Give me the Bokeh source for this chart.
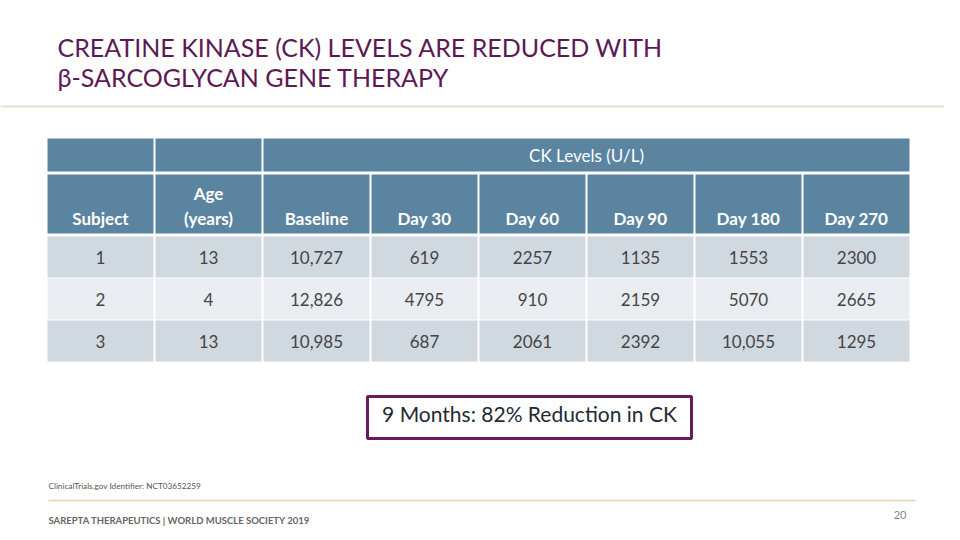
from bokeh.plotting import figure
from bokeh.models import Range1d
from bokeh.core.properties import value
from bokeh.embed import file_html
from bokeh.resources import INLINE

# ---- data ----
subjects = ["1", "2", "3"]
ages = [13, 4, 13]
baseline = [10727, 12826, 10985]
day30 = [619, 4795, 687]
day60 = [2257, 910, 2061]
day90 = [1135, 2159, 2392]
day180 = [1553, 5070, 10055]
day270 = [2300, 2665, 1295]
col_headers = ["Subject", "Age|(years)", "Baseline", "Day 30", "Day 60", "Day 90", "Day 180", "Day 270"]
group_header = "CK Levels (U/L)"
title_lines = ["CREATINE KINASE (CK) LEVELS ARE REDUCED WITH", "\u03b2-SARCOGLYCAN GENE THERAPY"]
callout = "9 Months: 82% Reduction in CK"
source_note = "ClinicalTrials.gov Identifier: NCT03652259"
footer = "SAREPTA THERAPEUTICS | WORLD MUSCLE SOCIETY 2019"
page_no = "20"

def fmt(v):
    return f"{v:,}" if v >= 10000 else str(v)

# ---- layout (page pixel coordinates) ----
W, H = 944, 530
p = figure(width=W, height=H, output_backend="svg", toolbar_location=None,
           x_range=Range1d(0, W), y_range=Range1d(H, 0),
           x_axis_type=None, y_axis_type=None, min_border=0)
p.outline_line_color = None
p.grid.visible = False
p.background_fill_color = "white"
p.border_fill_color = "white"

HEAD = "#5B84A0"
ROW_DARK = "#D0D8E0"
ROW_LIGHT = "#E9EDF1"
TXT = "#454545"
PURPLE = "#5C1A55"
FONT = value("Lato")

x0, cw, gap = 47, 108, 2
ncol = 8
lefts = [x0 + i * cw for i in range(ncol)]
rights = [l + cw - gap for l in lefts]

# group header row
gh_top, gh_bot = 138, 171
p.quad(left=[lefts[0], lefts[1], lefts[2]], right=[rights[0], rights[1], rights[-1]],
       top=[gh_top] * 3, bottom=[gh_bot] * 3, fill_color=HEAD, line_color=None)
p.text(x=[(lefts[2] + rights[-1]) / 2], y=[(gh_top + gh_bot) / 2], text=[group_header],
       text_font=FONT, text_font_size="17px", text_color="white",
       text_align="center", text_baseline="middle")

# column header row
ch_top, ch_bot = 174, 233
p.quad(left=lefts, right=rights, top=[ch_top] * ncol, bottom=[ch_bot] * ncol,
       fill_color=HEAD, line_color=None)
hx, hy, ht = [], [], []
for i, h in enumerate(col_headers):
    parts = h.split("|")
    cx = (lefts[i] + rights[i]) / 2
    for j, part in enumerate(reversed(parts)):
        hx.append(cx)
        hy.append(218 - 25 * j)
        ht.append(part)
p.text(x=hx, y=hy, text=ht, text_font=FONT, text_font_size="17px",
       text_font_style="bold", text_color="white",
       text_align="center", text_baseline="middle")

# data rows
row_tops = [236, 278, 320]
row_h = 41
row_fill = [ROW_DARK, ROW_LIGHT, ROW_DARK]
columns = [subjects, [str(a) for a in ages],
           [fmt(v) for v in baseline], [fmt(v) for v in day30], [fmt(v) for v in day60],
           [fmt(v) for v in day90], [fmt(v) for v in day180], [fmt(v) for v in day270]]
ql, qr, qt, qb, qc = [], [], [], [], []
tx, ty, tt = [], [], []
for r in range(len(subjects)):
    for c in range(ncol):
        ql.append(lefts[c]); qr.append(rights[c])
        qt.append(row_tops[r]); qb.append(row_tops[r] + row_h)
        qc.append(row_fill[r])
        tx.append((lefts[c] + rights[c]) / 2)
        ty.append(row_tops[r] + row_h / 2)
        tt.append(columns[c][r])
p.quad(left=ql, right=qr, top=qt, bottom=qb, fill_color=qc, line_color=None)
p.text(x=tx, y=ty, text=tt, text_font=FONT, text_font_size="17px", text_color=TXT,
       text_align="center", text_baseline="middle")

# title
p.text(x=[57, 57], y=[46, 76], text=title_lines, text_font=FONT, text_font_size="25px",
       text_color=PURPLE, text_align="left", text_baseline="middle")
p.segment(x0=[0], y0=[106], x1=[W], y1=[106], line_color="#E9DFC8", line_width=2)

# callout box
p.quad(left=[367], right=[691], top=[396], bottom=[438], fill_color="white",
       line_color="#6A1B5E", line_width=3)
p.text(x=[529], y=[413], text=[callout], text_font=FONT, text_font_size="21px",
       text_color="#1E2B33", text_align="center", text_baseline="middle")

# footnotes
p.text(x=[48], y=[485], text=[source_note], text_font=FONT, text_font_size="8.2px",
       text_color="#555555", text_align="left", text_baseline="middle")
p.segment(x0=[48], y0=[500], x1=[915], y1=[500], line_color="#E8D3A8", line_width=1.5)
p.text(x=[48], y=[520], text=[footer], text_font=FONT, text_font_size="9.5px",
       text_font_style="bold", text_color="#666666", text_align="left", text_baseline="middle")
p.text(x=[906], y=[514], text=[page_no], text_font=FONT, text_font_size="11px",
       text_color="#888888", text_align="right", text_baseline="middle")

open("out.html", "w").write(file_html(p, INLINE))
